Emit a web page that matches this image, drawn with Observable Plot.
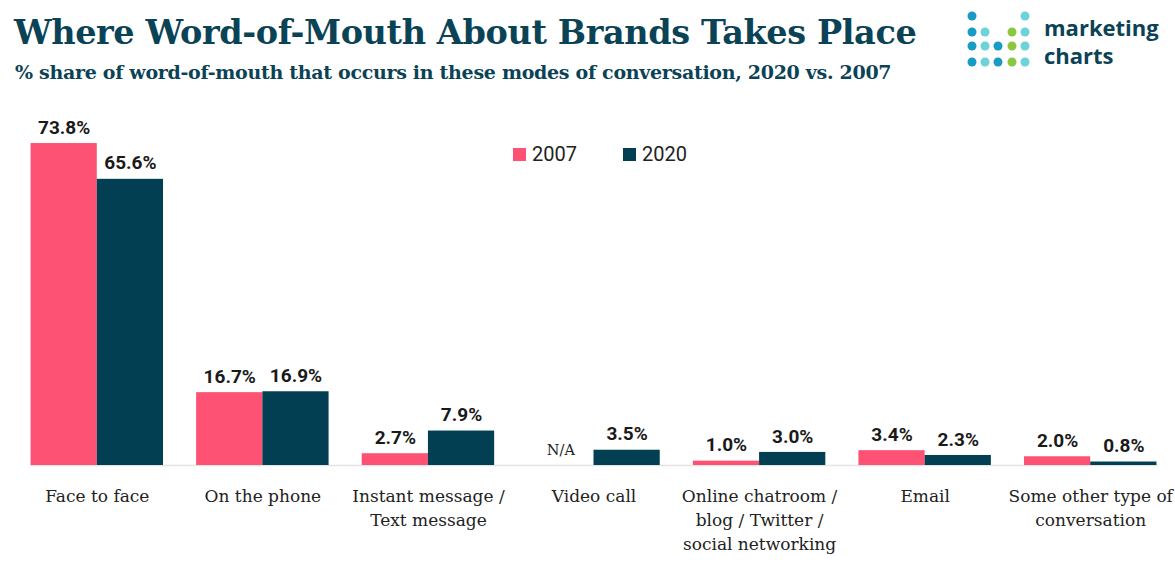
<!DOCTYPE html>
<html>
<head>
<meta charset="utf-8">
<script src="https://cdn.jsdelivr.net/npm/d3@7"></script>
<script src="https://cdn.jsdelivr.net/npm/@observablehq/plot@0.6"></script>
<style>
  html, body { margin: 0; padding: 0; background: #fff; }
  body { width: 1175px; height: 566px; position: relative; overflow: hidden; }
  #title { position: absolute; left: 14px; top: 13px; font-family: "DejaVu Serif", serif; font-weight: bold; font-size: 33.5px; color: #0b4356; white-space: nowrap; letter-spacing: -0.4px; }
  #subtitle { position: absolute; left: 15px; top: 61px; font-family: "DejaVu Serif", serif; font-weight: bold; font-size: 19px; color: #0b4356; white-space: nowrap; letter-spacing: -0.3px; }
  #logo { position: absolute; left: 960px; top: 6px; }
  .logotext { position: absolute; left: 1044px; font-family: "Open Sans", sans-serif; font-weight: bold; font-size: 22px; line-height: 22px; color: #0b4356; }
  #chart { position: absolute; left: 0; top: 95px; }
  #legend { position: absolute; left: 513px; top: 142px; font-family: Roboto, sans-serif; font-size: 20px; color: #222; display: flex; gap: 46px; }
  #legend span.sw { display: inline-block; width: 13px; height: 13px; margin-right: 6px; vertical-align: 0px; }
</style>
</head>
<body>
<div id="title">Where Word-of-Mouth About Brands Takes Place</div>
<div id="subtitle">% share of word-of-mouth that occurs in these modes of conversation, 2020 vs. 2007</div>
<svg id="logo" width="80" height="70">
  <g>
    <circle cx="12" cy="10" r="4.5" fill="#1a9bc6"/>
    <circle cx="65" cy="10" r="4.5" fill="#6ed3d8"/>
    <circle cx="12" cy="26" r="4.5" fill="#1a9bc6"/>
    <circle cx="25" cy="26" r="4.5" fill="#6ed3d8"/>
    <circle cx="52" cy="26" r="4.5" fill="#8dc63f"/>
    <circle cx="65" cy="26" r="4.5" fill="#6ed3d8"/>
    <circle cx="12" cy="40" r="4.5" fill="#1a9bc6"/>
    <circle cx="25" cy="40" r="4.5" fill="#6ed3d8"/>
    <circle cx="38" cy="40" r="4.5" fill="#1a9bc6"/>
    <circle cx="52" cy="40" r="4.5" fill="#8dc63f"/>
    <circle cx="65" cy="40" r="4.5" fill="#6ed3d8"/>
    <circle cx="12" cy="56" r="4.5" fill="#1a9bc6"/>
    <circle cx="25" cy="56" r="4.5" fill="#6ed3d8"/>
    <circle cx="38" cy="56" r="4.5" fill="#1a9bc6"/>
    <circle cx="52" cy="56" r="4.5" fill="#8dc63f"/>
    <circle cx="65" cy="56" r="4.5" fill="#6ed3d8"/>
  </g>
</svg>
<div class="logotext" style="top:16px">marketing</div>
<div class="logotext" style="top:44px">charts</div>
<div id="chart"></div>
<div id="legend"></div>
<script>
const categories = [
  "Face to face",
  "On the phone",
  "Instant message /\nText message",
  "Video call",
  "Online chatroom /\nblog / Twitter /\nsocial networking",
  "Email",
  "Some other type of\nconversation"
];
const years = ["2007", "2020"];
const values2007 = [73.8, 16.7, 2.7, null, 1.0, 3.4, 2.0];
const values2020 = [65.6, 16.9, 7.9, 3.5, 3.0, 2.3, 0.8];
const colors = ["#fd5273", "#033f52"];
const missingLabel = "N/A";

const rows = [];
categories.forEach((c, i) => {
  rows.push({cat: c, year: years[0], value: values2007[i]});
  rows.push({cat: c, year: years[1], value: values2020[i]});
});
const present = rows.filter(d => d.value != null);
const missing = rows.filter(d => d.value == null);

const chart = Plot.plot({
  width: 1175,
  height: 471,
  marginTop: 21,
  marginBottom: 101,
  marginLeft: 14,
  marginRight: 2,
  style: {background: "transparent"},
  fx: {domain: categories, paddingInner: 0.2, paddingOuter: 0.1, label: null, round: false},
  x: {domain: years, axis: null, paddingInner: 0, paddingOuter: 0, round: false},
  y: {domain: [0, 80], axis: null},
  color: {domain: years, range: colors},
  marks: [
    Plot.frame({anchor: "bottom", facet: "super", stroke: "#e4e4e4", strokeWidth: 1.5}),
    Plot.barY(present, {fx: "cat", x: "year", y: "value", fill: "year"}),
    Plot.text(present, {fx: "cat", x: "year", y: "value", text: d => d.value.toFixed(1) + "%", dy: -16, fontSize: 19, fontWeight: "bold", fontFamily: "Roboto, sans-serif", fill: "#1a1a1a", letterSpacing: "-0.3px"}),
    Plot.text(missing, {fx: "cat", x: "year", y: 0, text: () => missingLabel, dy: -15, fontSize: 14.5, fontFamily: "DejaVu Serif, serif", fill: "#222"}),
    Plot.axisFx({anchor: "bottom", tickSize: 0, tickPadding: 19, label: null, fontSize: 17, fontFamily: "DejaVu Serif, serif", lineHeight: 1.42, fill: "#222"})
  ]
});
document.getElementById("chart").appendChild(chart);

const legend = document.getElementById("legend");
years.forEach((y, i) => {
  const item = document.createElement("div");
  item.innerHTML = `<span class="sw" style="background:${colors[i]}"></span>${y}`;
  legend.appendChild(item);
});
</script>
</body>
</html>
